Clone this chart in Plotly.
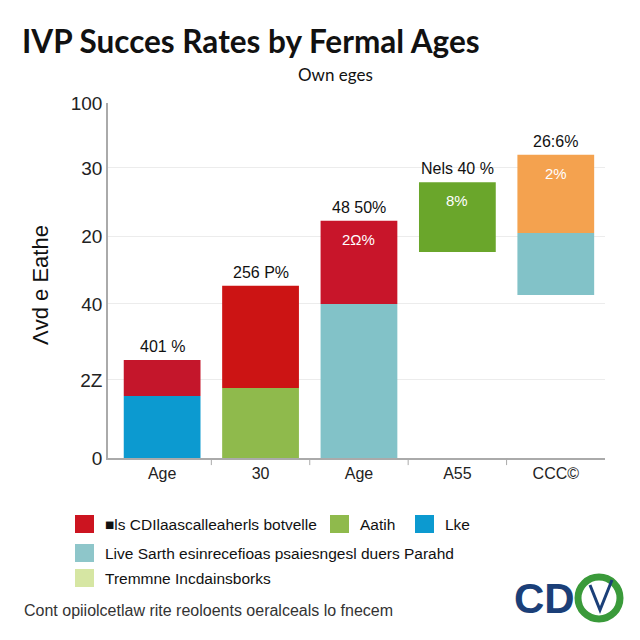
import plotly.graph_objects as go

categories = ["Age", "30", "Age", "A55", "CCC©"]
x_pos = [0, 1, 2, 3, 4]
lower_base = [0, 0, 0, 58.0, 45.9]
lower_top = [17.5, 19.7, 43.4, 77.7, 63.4]
upper_top = [27.6, 48.5, 66.8, None, 85.4]
lower_colors = ["#0c9ad0", "#8fba4c", "#82c2c8", "#6aa62b", "#82c2c8"]
upper_colors = ["#c4162b", "#cc1414", "#c8152a", None, "#f4a24f"]
top_labels = ["401 %", "256 P%", "48 50%", "Nels 40 %", "26:6%"]
inner_labels = ["", "", "2Ω%", "8%", "2%"]
y_tickvals = [0, 22, 43.4, 62.5, 81.7, 100]
y_ticktext = ["0", "2Z", "40", "20", "30", "100"]
legend_items = [
    ("#cc1420", "■ls CDIlaascalleaherls botvelle", 0, 0),
    ("#8fba4c", "Aatih", 1, 0),
    ("#0c9ad0", "Lke", 2, 0),
    ("#8ec6ca", "Live Sarth esinrecefioas psaiesngesl duers Parahd", 0, 1),
    ("#d6e6a3", "Tremmne Incdainsborks", 0, 2),
]

W = 0.78
fig = go.Figure()
for i, x in enumerate(x_pos):
    fig.add_trace(go.Bar(
        x=[x], y=[lower_top[i] - lower_base[i]], base=[lower_base[i]],
        width=W, marker=dict(color=lower_colors[i], line=dict(width=0)),
        showlegend=False, hoverinfo="skip"))
    top = lower_top[i]
    seg_top = lower_top[i]
    if upper_top[i] is not None:
        fig.add_trace(go.Bar(
            x=[x], y=[upper_top[i] - lower_top[i]], base=[lower_top[i]],
            width=W, marker=dict(color=upper_colors[i], line=dict(width=0)),
            showlegend=False, hoverinfo="skip"))
        top = upper_top[i]
        seg_top = upper_top[i]
    fig.add_annotation(x=x, y=top, text=top_labels[i], showarrow=False,
                       yanchor="bottom", yshift=3,
                       font=dict(size=16, color="#111", family="Liberation Sans"))
    if inner_labels[i]:
        fig.add_annotation(x=x, y=seg_top, text=inner_labels[i], showarrow=False,
                           yanchor="top", yshift=-8,
                           font=dict(size=15, color="white", family="Liberation Sans"))

fig.update_layout(
    barmode="overlay",
    width=640, height=640,
    margin=dict(l=108, r=35, t=103, b=182),
    paper_bgcolor="white", plot_bgcolor="white",
    xaxis=dict(range=[-0.55, 4.5], tickvals=x_pos, ticktext=categories,
               showgrid=False, showline=True, linecolor="#aaaaaa", linewidth=1.5,
               ticks="", tickfont=dict(size=16, color="#222", family="Liberation Sans"),
               zeroline=False),
    yaxis=dict(range=[0, 100], tickvals=y_tickvals, ticktext=y_ticktext,
               showgrid=True, gridcolor="#ececec", gridwidth=1,
               showline=True, linecolor="#aaaaaa", linewidth=1.5,
               ticks="", ticklen=0, tickfont=dict(size=19, color="#222", family="Liberation Sans"),
               zeroline=False),
    showlegend=False,
)

for xm in [0.5, 1.5, 2.5, 3.5]:
    fig.add_shape(type="line", xref="x", yref="paper", x0=xm, x1=xm, y0=0, y1=-0.02,
                  line=dict(color="#aaaaaa", width=1))

def px_x(p):
    return (p - 108) / 497.0

def px_y(p):
    return (458 - p) / 355.0

fig.add_annotation(xref="paper", yref="paper", x=px_x(20), y=px_y(41), text="<b>IVP Succes Rates by Fermal Ages</b>",
                   showarrow=False, xanchor="left", yanchor="middle",
                   font=dict(size=31.5, color="#111", family="Lato"))
fig.add_annotation(xref="paper", yref="paper", x=px_x(335), y=px_y(74), text="Own eges",
                   showarrow=False, xanchor="center", yanchor="middle",
                   font=dict(size=17, color="#111", family="Lato"))
fig.add_annotation(xref="paper", yref="paper", x=px_x(40), y=px_y(285), text="Λvd e Eathe",
                   showarrow=False, textangle=-90, xanchor="center", yanchor="middle",
                   font=dict(size=22, color="#111", family="Liberation Sans"))

col_x = [75, 330, 415]
row_y = [524, 553, 578]
for color, label, c, r in legend_items:
    x0 = col_x[c]
    y0 = row_y[r]
    fig.add_shape(type="rect", xref="paper", yref="paper",
                  x0=px_x(x0), x1=px_x(x0 + 19), y0=px_y(y0 - 9), y1=px_y(y0 + 9),
                  fillcolor=color, line=dict(width=0))
    fig.add_annotation(xref="paper", yref="paper", x=px_x(x0 + 28), y=px_y(y0),
                       text=label, showarrow=False, xanchor="left", yanchor="middle",
                       font=dict(size=15.5, color="#111", family="Liberation Sans"))

fig.add_annotation(xref="paper", yref="paper", x=px_x(22), y=px_y(610),
                   text="Cont opiiolcetlaw rite reoloents oeralceals lo fnecem",
                   showarrow=False, xanchor="left", yanchor="middle",
                   font=dict(size=16, color="#333", family="Liberation Sans"))

fig.add_annotation(xref="paper", yref="paper", x=px_x(577), y=px_y(598), text="<b>CD</b>",
                   showarrow=False, xanchor="right", yanchor="middle",
                   font=dict(size=42, color="#1b3f78", family="Liberation Sans"))
fig.add_shape(type="circle", xref="paper", yref="paper",
              x0=px_x(578), x1=px_x(620), y0=px_y(577), y1=px_y(619),
              line=dict(color="#3a9a3a", width=7), fillcolor="white")
fig.add_shape(type="path", xref="paper", yref="paper",
              path=f"M {px_x(590)},{px_y(585)} L {px_x(600)},{px_y(610)} L {px_x(612)},{px_y(580)}",
              line=dict(color="#1b3f78", width=3))

fig.write_html("out.html")
